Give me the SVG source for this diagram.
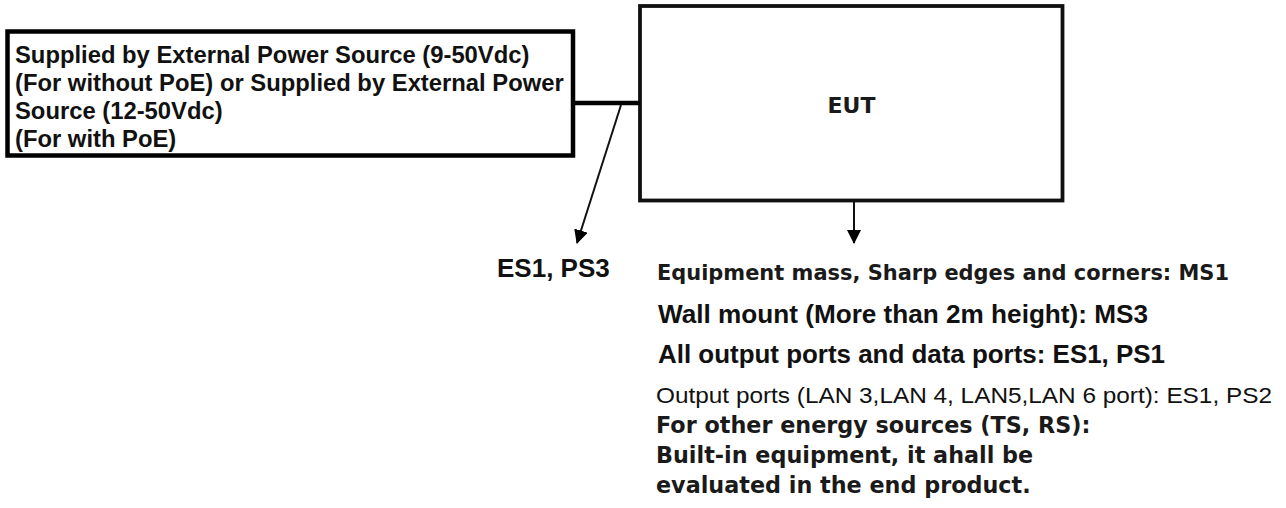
<svg xmlns="http://www.w3.org/2000/svg" width="1286" height="508" viewBox="0 0 1286 508">
  <defs>
    <style>
      .box { fill: #ffffff; stroke: #000000; stroke-width: 4.5; }
      .box-eut { fill: #ffffff; stroke: #111111; stroke-width: 3.8; }
      .wire { stroke: #000000; stroke-width: 4.5; fill: none; }
      .thin { stroke: #111111; stroke-width: 2; fill: none; }
      .arial { font-family: "Liberation Sans", Arial, sans-serif; fill: #111111; }
      .bold { font-weight: bold; }
      .wide { font-family: "DejaVu Sans", Verdana, sans-serif; font-weight: bold; fill: #1a1a1a; }
    </style>
    <marker id="arrow" viewBox="0 0 14 14" refX="13" refY="7" markerWidth="14" markerHeight="14" markerUnits="userSpaceOnUse" orient="auto">
      <path d="M0,0 L14,7 L0,14 Z" fill="#000000"/>
    </marker>
  </defs>

  <g id="power-source">
    <rect class="box" x="7.5" y="31.5" width="565.5" height="124"/>
    <text class="arial bold" font-size="23.8" x="15" y="63">Supplied by External Power Source (9-50Vdc)</text>
    <text class="arial bold" font-size="23.8" x="15" y="91">(For without PoE) or Supplied by External Power</text>
    <text class="arial bold" font-size="23.8" x="15" y="119">Source (12-50Vdc)</text>
    <text class="arial bold" font-size="23.8" x="15" y="147">(For with PoE)</text>
  </g>

  <g id="eut">
    <rect class="box-eut" x="640" y="6" width="422.5" height="194.5"/>
    <text class="wide" font-size="22" x="851.5" y="113" text-anchor="middle">EUT</text>
  </g>

  <g id="connectors">
    <line class="wire" x1="573" y1="103" x2="640" y2="103"/>
    <line class="thin" x1="621" y1="105" x2="577" y2="243" marker-end="url(#arrow)"/>
    <line class="thin" x1="854" y1="202" x2="854" y2="243" marker-end="url(#arrow)"/>
  </g>

  <g id="label-es1-ps3">
    <text class="arial bold" font-size="26" x="497" y="277">ES1, PS3</text>
  </g>

  <g id="label-eut-sources">
    <text class="wide" font-size="20.8" x="657" y="280" textLength="572" lengthAdjust="spacingAndGlyphs">Equipment mass, Sharp edges and corners: MS1</text>
    <text class="arial bold" font-size="25.5" x="658" y="323" textLength="490" lengthAdjust="spacingAndGlyphs">Wall mount (More than 2m height): MS3</text>
    <text class="arial bold" font-size="25.5" x="658" y="363" textLength="507" lengthAdjust="spacingAndGlyphs">All output ports and data ports: ES1, PS1</text>
    <text class="arial" font-size="22" x="656" y="403" textLength="616" lengthAdjust="spacingAndGlyphs">Output ports (LAN 3,LAN 4, LAN5,LAN 6 port): ES1, PS2</text>
    <text class="wide" font-size="22.3" x="656" y="433">For other energy sources (TS, RS):</text>
    <text class="wide" font-size="22.3" x="656" y="463">Built-in equipment, it ahall be</text>
    <text class="wide" font-size="22.3" x="656" y="493">evaluated in the end product.</text>
  </g>
</svg>
